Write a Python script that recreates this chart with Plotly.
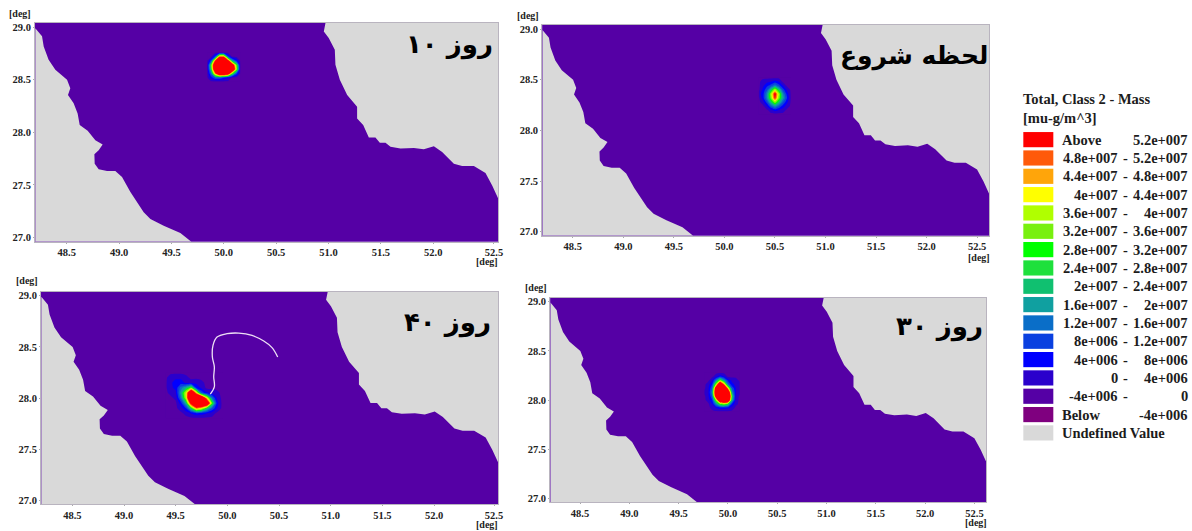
import plotly.graph_objects as go

W, H = 1192, 531
FIT = 0.9955

# ---------- data ----------
west_lon = [48.20,48.264,48.28,48.327,48.391,48.503,48.534,48.512,48.566,48.604,48.624,48.70,48.773,48.843,48.805,48.764,48.767,48.805,48.885,48.964,49.028,49.108,49.235,49.299,49.426,49.585,49.69,48.20]
west_lat = [28.99,28.913,28.817,28.69,28.594,28.499,28.419,28.355,28.276,28.18,28.069,28.015,27.925,27.884,27.83,27.792,27.702,27.648,27.632,27.632,27.575,27.432,27.241,27.177,27.113,27.043,26.96,26.96]
east_lon = [50.971,50.955,51.002,51.06,51.066,51.108,51.178,51.273,51.273,51.331,51.385,51.448,51.49,51.544,51.592,51.687,51.815,51.91,52.006,52.085,52.197,52.276,52.388,52.499,52.563,52.62,52.62]
east_lat = [29.04,28.96,28.897,28.785,28.642,28.499,28.355,28.244,28.132,28.069,27.951,27.951,27.9,27.9,27.862,27.846,27.852,27.839,27.868,27.814,27.702,27.68,27.68,27.613,27.495,27.37,29.04]

track_lon = [50.487,50.432,50.352,50.239,50.11,49.997,49.90,49.861,49.855,49.874,49.868,49.874,49.835]
track_lat = [28.402,28.493,28.557,28.612,28.635,28.629,28.596,28.515,28.402,28.305,28.207,28.11,28.039]

# concentration grids, units of 1e6 mu-g/m^3
day10_lon = [49.84,49.88,49.92,49.96,50.00,50.04,50.08,50.12,50.16]
day10_lat = [28.48,28.52,28.56,28.60,28.64,28.68,28.72,28.76]
day10_z = [
    [-1,-1,-1,-1,-1,-1,-1,-1,-1],
    [-1, 6,12,12, 8, 4,-1,-1,-1],
    [-1,14,45,70,70,60,30,10,-1],
    [-1,24,70,80,80,80,70,34,-1],
    [-1,28,70,80,80,80,60,30,-1],
    [-1,10,50,80,80,55,20, 8,-1],
    [-1,-1,10,45,45,10,-1,-1,-1],
    [-1,-1,-1,-1,-1,-1,-1,-1,-1],
]
start_lon = [50.34,50.38,50.42,50.46,50.50,50.54,50.58,50.62,50.66]
start_lat = [28.16,28.20,28.24,28.28,28.32,28.36,28.40,28.44,28.48,28.52]
start_z = [
    [-1,-1,-1,-1,-1,-1,-1,-1,-1],
    [-1,-1,-1, 3, 6, 4, 2,-1,-1],
    [-1,-1, 4,12,18,12, 6, 2,-1],
    [-1, 2,10,22,32,22,12, 5,-1],
    [-1, 6,16,30,50,30,18, 8,-1],
    [ 2, 6,16,32,54,32,16, 6,-1],
    [-1, 5,11,22,34,22,10, 3,-1],
    [-1, 3, 7,10,16,10, 4,-1,-1],
    [-1, 2, 3, 4, 6, 4,-1,-1,-1],
    [-1,-1,-1,-1,-1,-1,-1,-1,-1],
]
day40_lon = [49.40,49.45,49.50,49.55,49.60,49.65,49.70,49.75,49.80,49.85,49.90,49.95]
day40_lat = [27.80,27.85,27.90,27.95,28.00,28.05,28.10,28.15,28.20,28.25]
day40_z = [
    [-1,-1,-1,-1,-1,-1,-1,-1,-1,-1,-1,-1],
    [-1,-1,-1,-1, 1, 4, 7, 6, 4, 2,-1,-1],
    [-1,-1,-1, 2, 8,24,44,38,24,12, 4,-1],
    [-1,-1,-1, 6,20,55,80,80,70,30, 6,-1],
    [-1,-1, 1,14,34,80,80,70,40,15, 3,-1],
    [-1, 1, 3,18,36,70,42,12, 5, 3, 1,-1],
    [-1, 3, 5,14,20,30, 7, 3,-1,-1,-1,-1],
    [-1, 3, 6, 6, 3, 2, 3, 1,-1,-1,-1,-1],
    [-1, 2, 3, 3, 1,-1,-1,-1,-1,-1,-1,-1],
    [-1,-1,-1,-1,-1,-1,-1,-1,-1,-1,-1,-1],
]
day30_lon = [49.76,49.80,49.84,49.88,49.92,49.96,50.00,50.04,50.08,50.12]
day30_lat = [27.88,27.92,27.96,28.00,28.04,28.08,28.12,28.16,28.20,28.24,28.28]
day30_z = [
    [-1,-1,-1,-1,-1,-1,-1,-1,-1,-1],
    [-1,-1, 1, 4, 6, 6, 5, 2,-1,-1],
    [-1,-1, 4,16,28,32,26, 8, 1,-1],
    [-1, 2, 8,32,70,80,70,22, 2,-1],
    [-1, 3,12,60,80,80,80,26, 3,-1],
    [ 1, 3,16,66,80,80,70,18, 4, 2],
    [-1, 3,12,60,80,80,40,12, 4, 3],
    [-1, 2, 8,32,70,44,14, 5, 3, 2],
    [-1,-1, 3,16,30,18, 7, 3, 2,-1],
    [-1,-1,-1, 2, 7, 4,-1,-1,-1,-1],
    [-1,-1,-1,-1,-1,-1,-1,-1,-1,-1],
]

x_ticks = [48.5,49.0,49.5,50.0,50.5,51.0,51.5,52.0,52.5]
x_labels = ["48.5","49.0","49.5","50.0","50.5","51.0","51.5","52.0","52.5"]
y_ticks = [27.0,27.5,28.0,28.5,29.0]
y_labels = ["27.0","27.5","28.0","28.5","29.0"]

legend_title = ["Total, Class 2 - Mass", "[mu-g/m^3]"]
legend_low = ["Above","4.8e+007","4.4e+007","4e+007","3.6e+007","3.2e+007","2.8e+007","2.4e+007","2e+007","1.6e+007","1.2e+007","8e+006","4e+006","0","-4e+006","Below","Undefined Value"]
legend_high = ["5.2e+007","5.2e+007","4.8e+007","4.4e+007","4e+007","3.6e+007","3.2e+007","2.8e+007","2.4e+007","2e+007","1.6e+007","1.2e+007","8e+006","4e+006","0","-4e+006",""]
legend_colors = ["#ff0000","#ff5a0a","#ffa50a","#ffff00","#b0ff00","#78f00f","#00ff00","#1ee03c","#10c070","#10a0a0","#0a6ec8","#0a40e0","#0000ff","#2a00cc","#5500a5","#7f007f","#d9d9d9"]

# ---------- style ----------
SEA = "#5500a5"
LAND = "#d9d9d9"
FRAME = "#b9b4bf"
SERIF = "Liberation Serif"
XR = [48.197, 52.62]
YR = [26.96, 29.04]

band_colors = legend_colors[:15][::-1]          # -4 .. 56 in steps of 4
n = len(band_colors)
scale = []
for i, c in enumerate(band_colors):
    scale += [[i / n, c], [(i + 1) / n, c]]

panels = [
    dict(box=(35, 22, 498, 241), lon=day10_lon, lat=day10_lat, z=day10_z, title="روز ۱۰", size=26, tc=(449, 44), deg=((20, 13), (487, 261)), last=52.58, track=False),
    dict(box=(542, 24, 989, 235), lon=start_lon, lat=start_lat, z=start_z, title="لحظه شروع", size=25, tc=(914, 55), deg=((528, 15), (979, 257)), last=52.5, track=False),
    dict(box=(41, 291, 498, 504), lon=day40_lon, lat=day40_lat, z=day40_z, title="روز ۴۰", size=26, tc=(447, 322), deg=((27, 280), (487, 524)), last=52.58, track=True),
    dict(box=(550, 297, 986, 502), lon=day30_lon, lat=day30_lat, z=day30_z, title="روز ۳۰", size=26, tc=(939, 326), deg=((536, 287), (976, 522)), last=52.5, track=False),
]


def px(x):
    return x / (W * FIT)


def py(y):
    return 1 - y / (H * FIT)


fig = go.Figure()
annotations = []
shapes = []
axes = {}

for i, p in enumerate(panels):
    suffix = "" if i == 0 else str(i + 1)
    xa, ya = "x" + suffix, "y" + suffix
    x0, y0, x1, y1 = p["box"]
    fig.add_trace(go.Contour(
        x=p["lon"], y=p["lat"], z=p["z"], xaxis=xa, yaxis=ya,
        colorscale=scale, zmin=-4, zmax=56, showscale=False, hoverinfo="skip",
        autocontour=False,
        contours=dict(start=-4, end=52, size=4, coloring="fill", showlines=False),
        line=dict(width=0, smoothing=0.3),
    ))
    for lons, lats in ((west_lon, west_lat), (east_lon, east_lat)):
        fig.add_trace(go.Scatter(
            x=lons, y=lats, xaxis=xa, yaxis=ya, mode="lines", fill="toself",
            fillcolor=LAND, line=dict(width=0, color=LAND), hoverinfo="skip", showlegend=False,
        ))
    if p["track"]:
        fig.add_trace(go.Scatter(
            x=track_lon, y=track_lat, xaxis=xa, yaxis=ya, mode="lines",
            line=dict(color="#eedff5", width=1.3, shape="spline", smoothing=1.0),
            hoverinfo="skip", showlegend=False,
        ))
    tickvals = x_ticks[:-1] + [p["last"]]
    axis_common = dict(
        showgrid=False, zeroline=False, showline=True, linecolor=FRAME, linewidth=1, mirror=True,
        ticks="outside", ticklen=1, tickcolor="#aaaaaa", tickwidth=1,
        tickfont=dict(family=SERIF, size=10.5, color="#222222", weight=700),
    )
    axes["xaxis" + suffix] = dict(
        axis_common, domain=[px(x0), px(x1)], range=XR, anchor=ya, tickmode="array",
        tickvals=tickvals, ticktext=x_labels, ticklabelstandoff=0,
    )
    axes["yaxis" + suffix] = dict(
        axis_common, domain=[py(y1), py(y0)], range=YR, anchor=xa, tickmode="array",
        tickvals=y_ticks, ticktext=y_labels,
    )
    annotations.append(dict(
        text=p["title"], x=px(p["tc"][0]), y=py(p["tc"][1]), xref="paper", yref="paper",
        xanchor="center", yanchor="middle", showarrow=False,
        font=dict(family="DejaVu Sans", size=p["size"], color="#000000", weight=700),
    ))
    for (dx, dy) in p["deg"]:
        annotations.append(dict(
            text="[deg]", x=px(dx), y=py(dy), xref="paper", yref="paper",
            xanchor="center", yanchor="middle", showarrow=False,
            font=dict(family=SERIF, size=10, color="#222222", weight=700),
        ))

# legend
LEG = dict(family=SERIF, size=14.5, color="#1c1c1c", weight=700)
for t, yy in zip(legend_title, (98, 117)):
    annotations.append(dict(text=t, x=px(1021), y=py(yy), xref="paper", yref="paper",
                            xanchor="left", yanchor="middle", showarrow=False, font=LEG))
for i, (lo, hi, col) in enumerate(zip(legend_low, legend_high, legend_colors)):
    yc = 138.8 + i * 18.35
    shapes.append(dict(type="rect", xref="paper", yref="paper", x0=px(1023), x1=px(1053),
                       y0=py(yc + 7.6), y1=py(yc - 7.6), fillcolor=col, line=dict(width=0)))
    named = lo in ("Above", "Below", "Undefined Value")
    annotations.append(dict(text=lo, x=px(1060 if named else 1120), y=py(yc), xref="paper", yref="paper",
                            xanchor="left" if named else "right", yanchor="middle", showarrow=False, font=LEG))
    if not named:
        annotations.append(dict(text="-", x=px(1125), y=py(yc), xref="paper", yref="paper",
                                xanchor="center", yanchor="middle", showarrow=False, font=LEG))
    if hi:
        annotations.append(dict(text=hi, x=px(1190), y=py(yc), xref="paper", yref="paper",
                                xanchor="right", yanchor="middle", showarrow=False, font=LEG))

fig.update_layout(
    width=W, height=H, margin=dict(l=0, r=0, t=0, b=0),
    paper_bgcolor="#ffffff", plot_bgcolor=SEA, showlegend=False,
    annotations=annotations, shapes=shapes, **axes,
)

fig.write_html(
    "out.html",
    config=dict(displayModeBar=False, responsive=False),
    post_script="document.documentElement.style.overflow='hidden';document.body.style.margin='0';document.body.style.overflow='hidden';",
)
